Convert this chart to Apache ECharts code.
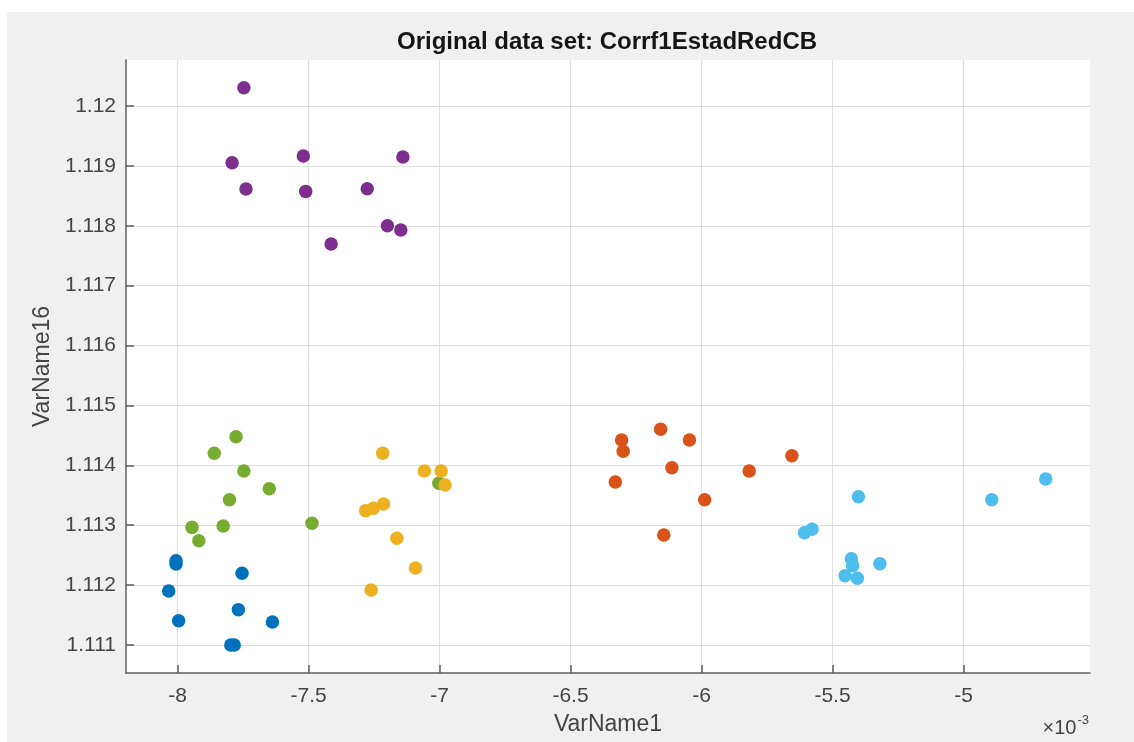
<!DOCTYPE html>
<html>
<head>
<meta charset="utf-8">
<title>Corrf1EstadRedCB</title>
<script src="https://cdn.jsdelivr.net/npm/echarts@6/dist/echarts.min.js"></script>
<style>
  html, body { margin: 0; padding: 0; background: #ffffff; width: 1134px; height: 742px; overflow: hidden; }
  #panel { position: absolute; left: 7px; top: 12px; width: 1127px; height: 730px; background: #f0f0f0; }
  #chart { position: absolute; left: 0; top: 0; width: 1134px; height: 742px; }
</style>
</head>
<body>
<div id="panel"></div>
<div id="chart"></div>
<script>
// VarName1 values are given in units of 1e-3 (the axis carries a ×10^-3 multiplier)
const group1X = [-8.006, -8.006, -8.034, -7.996, -7.754, -7.768, -7.638, -7.797, -7.784];
const group1Y = [1.112408, 1.112352, 1.111902, 1.111406, 1.112197, 1.111590, 1.111384, 1.111000, 1.111000];

const group2X = [-6.305, -6.299, -6.156, -6.046, -6.113, -6.329, -5.988, -6.144, -5.818, -5.655];
const group2Y = [1.114422, 1.114234, 1.114601, 1.114422, 1.113960, 1.113721, 1.113426, 1.112836, 1.113905, 1.114160];

const group3X = [-7.747, -7.792, -7.739, -7.520, -7.511, -7.414, -7.276, -7.140, -7.199, -7.148];
const group3Y = [1.120304, 1.119052, 1.118613, 1.119164, 1.118574, 1.117694, 1.118618, 1.119147, 1.118000, 1.117928];

const group4X = [-7.777, -7.860, -7.747, -7.650, -7.802, -7.945, -7.826, -7.919, -7.487, -7.003];
const group4Y = [1.114478, 1.114200, 1.113905, 1.113610, 1.113426, 1.112964, 1.112987, 1.112742, 1.113031, 1.113699];

const group5X = [-7.217, -7.058, -6.994, -6.979, -7.214, -7.253, -7.282, -7.163, -7.092, -7.261];
const group5Y = [1.114200, 1.113905, 1.113905, 1.113671, 1.113354, 1.113282, 1.113243, 1.112781, 1.112285, 1.111918];

const group6X = [-5.401, -4.892, -4.686, -5.607, -5.578, -5.428, -5.423, -5.452, -5.405, -5.319];
const group6Y = [1.113476, 1.113426, 1.113771, 1.112875, 1.112931, 1.112441, 1.112324, 1.112157, 1.112113, 1.112357];

const groupColors = ['#0072BD', '#D95319', '#7E2F8E', '#77AC30', '#EDB120', '#4DBEEE'];

const xTickLabels = ['-8', '-7.5', '-7', '-6.5', '-6', '-5.5', '-5'];
const yTickLabels = ['1.111', '1.112', '1.113', '1.114', '1.115', '1.116', '1.117', '1.118', '1.119', '1.12'];

const titleText = 'Original data set: Corrf1EstadRedCB';
const xName = 'VarName1';
const yName = 'VarName16';

const xTicks = xTickLabels.map(Number);
const yTicks = yTickLabels.map(Number);

const FONT = '"Liberation Sans", Arial, Helvetica, sans-serif';
const TEXT = '#444444';
const AXIS = '#5c5c5c';
const GRIDLINE = '#dedede';

function pairs(xs, ys) {
  return xs.map((x, i) => [x, ys[i]]);
}

const groups = [
  pairs(group1X, group1Y),
  pairs(group2X, group2Y),
  pairs(group3X, group3Y),
  pairs(group4X, group4Y),
  pairs(group5X, group5Y),
  pairs(group6X, group6Y)
];

const chart = echarts.init(document.getElementById('chart'), null, { renderer: 'canvas' });

chart.setOption({
  animation: false,
  backgroundColor: 'transparent',
  textStyle: { fontFamily: FONT },
  title: [
    {
      text: titleText,
      left: 607,
      textAlign: 'center',
      top: 30,
      padding: 0,
      textStyle: { fontFamily: FONT, fontSize: 24, fontWeight: 'bold', color: '#151515' }
    },
    {
      text: '{a|×10}{b|-3}',
      right: 45,
      top: 714,
      padding: 0,
      textStyle: {
        fontFamily: FONT,
        fontWeight: 'normal',
        rich: {
          a: { fontFamily: FONT, fontWeight: 'normal', fontSize: 20, color: TEXT, lineHeight: 24, verticalAlign: 'bottom' },
          b: { fontFamily: FONT, fontWeight: 'normal', fontSize: 13, color: TEXT, lineHeight: 24, verticalAlign: 'top', padding: [0, 0, 0, 1] }
        }
      }
    }
  ],
  grid: {
    left: 126,
    right: 44,
    top: 60,
    bottom: 69,
    show: true,
    backgroundColor: '#ffffff',
    borderWidth: 0,
    containLabel: false,
    outerBoundsMode: 'none'
  },
  xAxis: {
    type: 'value',
    min: -8.197,
    max: -4.517,
    name: xName,
    nameLocation: 'middle',
    nameGap: 40,
    nameTextStyle: { fontFamily: FONT, fontSize: 23, color: TEXT },
    axisLine: { show: true, onZero: false, lineStyle: { color: AXIS, width: 1.5 } },
    axisTick: { show: true, inside: true, length: 8, customValues: xTicks, lineStyle: { color: AXIS, width: 1.5 } },
    axisLabel: {
      customValues: xTicks,
      fontFamily: FONT,
      fontSize: 21,
      color: TEXT,
      margin: 13,
      formatter: v => String(parseFloat(Number(v).toFixed(3)))
    },
    splitLine: { show: true, lineStyle: { color: GRIDLINE, width: 1 } }
  },
  yAxis: {
    type: 'value',
    min: 1.110532,
    max: 1.120768,
    name: yName,
    nameLocation: 'middle',
    nameGap: 72,
    nameTextStyle: { fontFamily: FONT, fontSize: 23, color: TEXT },
    axisLine: { show: true, onZero: false, lineStyle: { color: AXIS, width: 1.5 } },
    axisTick: { show: true, inside: true, length: 8, customValues: yTicks, lineStyle: { color: AXIS, width: 1.5 } },
    axisLabel: {
      customValues: yTicks,
      fontFamily: FONT,
      fontSize: 21,
      color: TEXT,
      margin: 10,
      formatter: v => String(parseFloat(Number(v).toFixed(3)))
    },
    splitLine: { show: true, lineStyle: { color: GRIDLINE, width: 1 } }
  },
  series: groups.map((data, i) => ({
    type: 'scatter',
    name: 'group' + (i + 1),
    data: data,
    symbol: 'circle',
    symbolSize: 13.5,
    itemStyle: { color: groupColors[i], opacity: 1 },
    emphasis: { disabled: true }
  }))
});
</script>
</body>
</html>
